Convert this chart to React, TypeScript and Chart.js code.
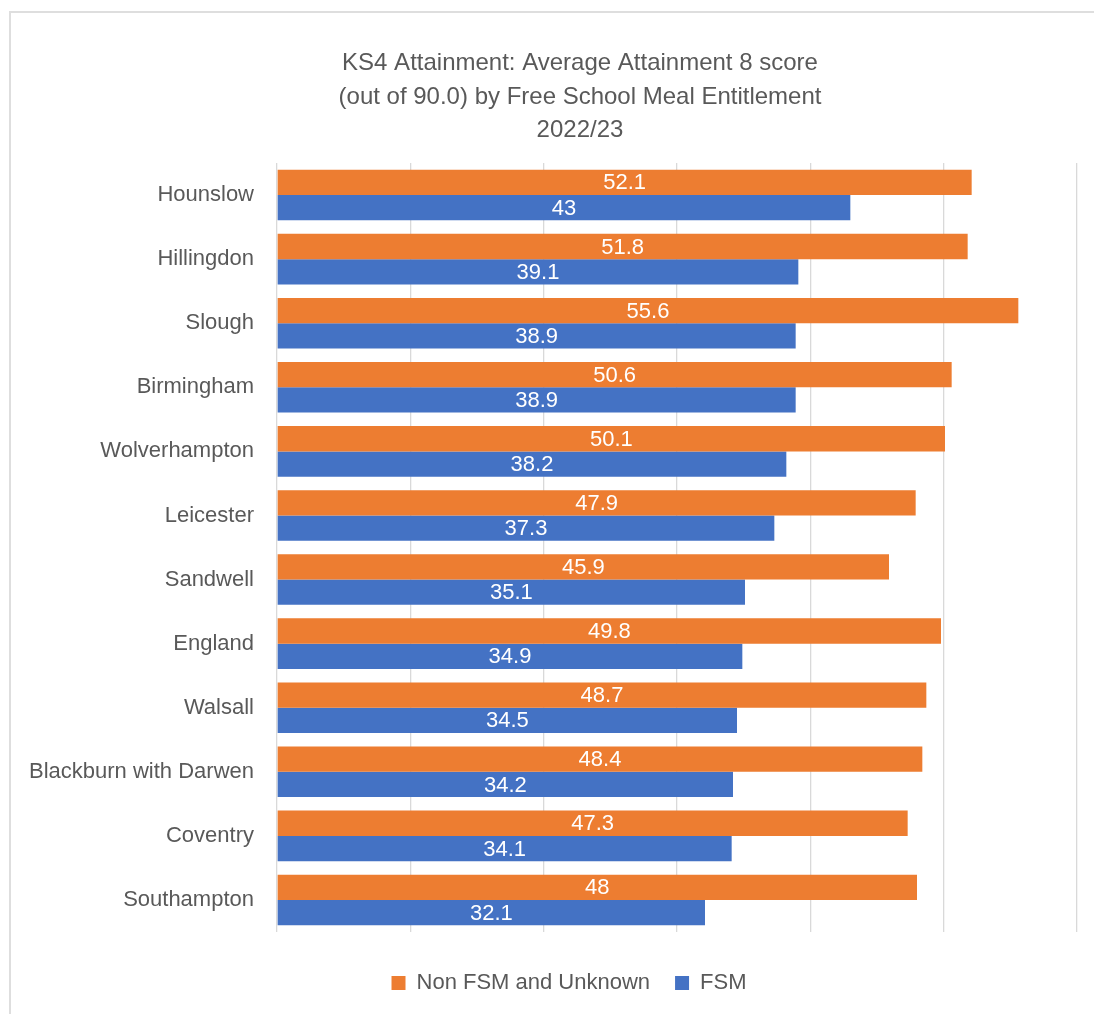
import React, { useEffect, useRef } from "react";
import { Chart, registerables } from "chart.js";

Chart.register(...registerables);

const categories = [
  "Hounslow",
  "Hillingdon",
  "Slough",
  "Birmingham",
  "Wolverhampton",
  "Leicester",
  "Sandwell",
  "England",
  "Walsall",
  "Blackburn with Darwen",
  "Coventry",
  "Southampton",
];

const nonFsmValues = [52.1, 51.8, 55.6, 50.6, 50.1, 47.9, 45.9, 49.8, 48.7, 48.4, 47.3, 48];
const fsmValues = [43, 39.1, 38.9, 38.9, 38.2, 37.3, 35.1, 34.9, 34.5, 34.2, 34.1, 32.1];

const seriesNames = ["Non FSM and Unknown", "FSM"];
const titleLines = [
  "KS4 Attainment: Average Attainment 8 score",
  "(out of 90.0) by Free School Meal Entitlement",
  "2022/23",
];

const FONT = "'Liberation Sans', Arial, sans-serif";
const TEXT = "#595959";

const titlePlugin = {
  id: "customTitle",
  afterDraw(chart: any) {
    const ctx = chart.ctx;
    ctx.save();
    ctx.fillStyle = TEXT;
    ctx.font = `24px ${FONT}`;
    ctx.textAlign = "center";
    ctx.textBaseline = "middle";
    const ys = [63, 97, 130];
    titleLines.forEach((t, i) => ctx.fillText(t, 580, ys[i]));
    ctx.restore();
  },
};

const legendShiftPlugin = {
  id: "legendShift",
  afterLayout(chart: any) {
    const l = chart.legend;
    if (l) {
      l.left += 61;
    }
  },
};

const valueLabelPlugin = {
  id: "valueLabels",
  afterDatasetsDraw(chart: any) {
    const ctx = chart.ctx;
    ctx.save();
    ctx.fillStyle = "#ffffff";
    ctx.font = `22px ${FONT}`;
    ctx.textAlign = "center";
    ctx.textBaseline = "middle";
    chart.data.datasets.forEach((ds: any, di: number) => {
      const meta = chart.getDatasetMeta(di);
      meta.data.forEach((el: any, i: number) => {
        const v = ds.data[i];
        ctx.fillText(String(v), (el.base + el.x) / 2, el.y + 1);
      });
    });
    ctx.restore();
  },
};

export default function App() {
  const ref = useRef<HTMLCanvasElement | null>(null);

  useEffect(() => {
    if (!ref.current) return;
    const chart = new Chart(ref.current, {
      type: "bar",
      data: {
        labels: categories,
        datasets: [
          {
            label: seriesNames[0],
            data: nonFsmValues,
            backgroundColor: "#ED7D31",
            categoryPercentage: 0.79,
            barPercentage: 1,
          },
          {
            label: seriesNames[1],
            data: fsmValues,
            backgroundColor: "#4472C4",
            categoryPercentage: 0.79,
            barPercentage: 1,
          },
        ],
      },
      options: {
        indexAxis: "y",
        responsive: false,
        animation: false,
        devicePixelRatio: 1,
        layout: { padding: { left: 0, right: 17, top: 163, bottom: 10 } },
        scales: {
          x: {
            min: 0,
            max: 60,
            ticks: { display: false, stepSize: 10 },
            grid: { color: "#d9d9d9", lineWidth: 1.3, drawTicks: false },
            border: { display: false },
            afterFit: (scale: any) => {
              scale.height = 15;
            },
          },
          y: {
            grid: { display: false, drawTicks: false },
            border: { display: false },
            ticks: {
              color: TEXT,
              font: { family: FONT, size: 22 },
              padding: 23,
            },
            afterFit: (scale: any) => {
              scale.width = 277;
            },
          },
        },
        plugins: {
          title: { display: false },
          tooltip: { enabled: false },
          legend: {
            display: true,
            position: "bottom",
            labels: {
              color: TEXT,
              font: { family: FONT, size: 22 },
              boxWidth: 14,
              boxHeight: 14,
              padding: 25,
            },
          },
        },
      },
      plugins: [titlePlugin, valueLabelPlugin, legendShiftPlugin],
    } as any);
    return () => chart.destroy();
  }, []);

  return (
    <div
      style={{
        position: "fixed",
        left: 0,
        top: 0,
        width: 1094,
        height: 1014,
        overflow: "hidden",
        background: "#ffffff",
      }}
    >
      <div
        style={{
          position: "absolute",
          left: 9,
          top: 11,
          width: 1300,
          height: 1200,
          borderTop: "2px solid #dedede",
          borderLeft: "2px solid #dedede",
        }}
      />
      <canvas
        ref={ref}
        width={1094}
        height={1014}
        style={{ position: "absolute", left: 0, top: 0, width: 1094, height: 1014 }}
      />
    </div>
  );
}
